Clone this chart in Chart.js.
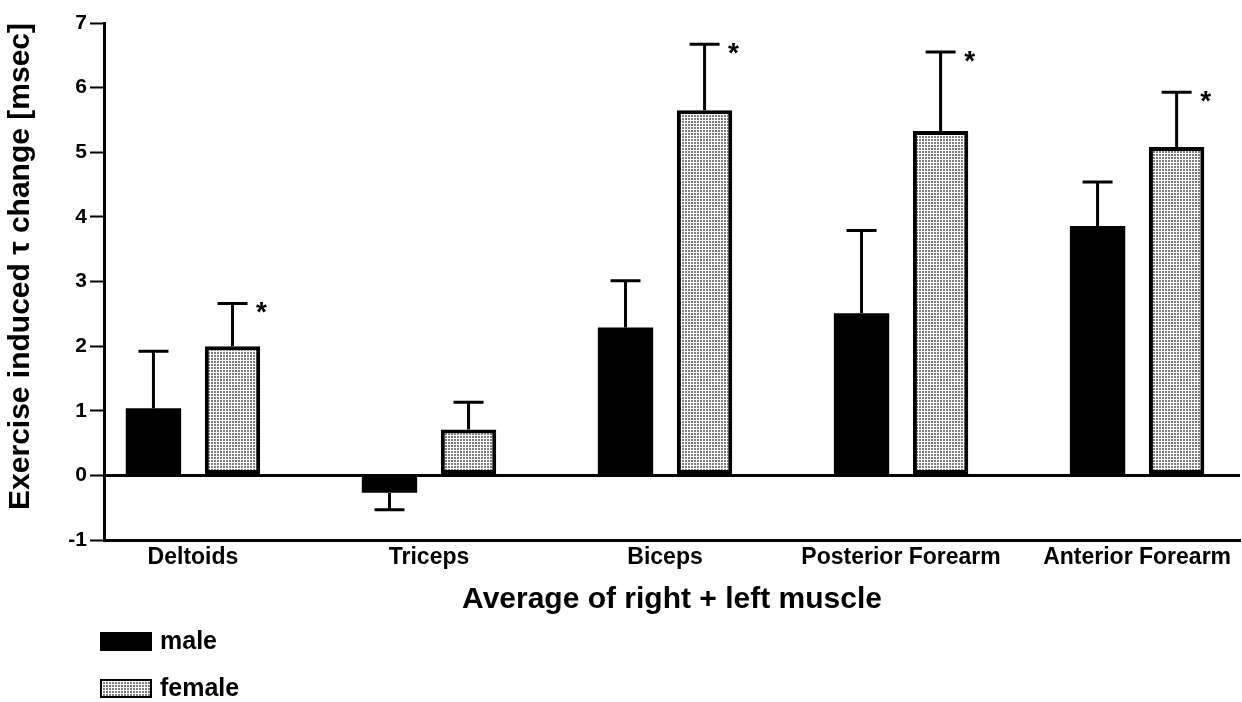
<!DOCTYPE html>
<html lang="en">
<head>
    <meta charset="UTF-8">
    <title>Exercise induced tau change</title>
    <script src="https://cdn.jsdelivr.net/npm/chart.js"></script>
    <style>
        body { margin: 0; background: #fff; }
        #wrap { width: 1242px; height: 702px; position: relative; }
    </style>
</head>
<body>
    <div id="wrap"><canvas id="barChart"></canvas></div>
    <script>
        // data
        var muscles = ['Deltoids', 'Triceps', 'Biceps', 'Posterior Forearm', 'Anterior Forearm'];
        var maleMean = [1.04, -0.27, 2.29, 2.51, 3.86];
        var maleErr = [0.88, 0.26, 0.72, 1.28, 0.68];
        var femaleMean = [2.0, 0.71, 5.65, 5.33, 5.08];
        var femaleErr = [0.66, 0.42, 1.02, 1.22, 0.85];
        var femaleSignif = [true, false, true, true, true];
        var yTicks = [-1, 0, 1, 2, 3, 4, 5, 6, 7];

        var font = '"Liberation Sans", Arial, sans-serif';

        // stippled grey fill for the female bars
        function makeStipple() {
            var c = document.createElement('canvas');
            c.width = 3; c.height = 3;
            var g = c.getContext('2d');
            g.fillStyle = '#7e7e7e';
            g.fillRect(0, 0, 3, 3);
            g.fillStyle = '#ffffff';
            g.fillRect(0, 0, 3, 1);
            g.fillRect(0, 0, 1, 3);
            return g.createPattern(c, 'repeat');
        }
        var stipple = makeStipple();

        function points(arr) {
            return arr.map(function (v, i) { return { x: i, y: v }; });
        }

        // error bars (one sided, away from zero) + significance stars
        var errorBars = {
            id: 'errorBars',
            afterDatasetsDraw: function (chart) {
                var ctx = chart.ctx;
                var ys = chart.scales.y;
                var errs = [maleErr, femaleErr];
                ctx.save();
                ctx.strokeStyle = '#000';
                ctx.lineWidth = 3;
                chart.data.datasets.forEach(function (ds, di) {
                    var meta = chart.getDatasetMeta(di);
                    meta.data.forEach(function (bar, i) {
                        var v = ds.data[i].y;
                        var e = errs[di][i];
                        var end = v >= 0 ? v + e : v - e;
                        var y0 = ys.getPixelForValue(v);
                        var y1 = ys.getPixelForValue(end);
                        ctx.beginPath();
                        ctx.moveTo(bar.x, y0);
                        ctx.lineTo(bar.x, y1);
                        ctx.moveTo(bar.x - 15, y1);
                        ctx.lineTo(bar.x + 15, y1);
                        ctx.stroke();
                        if (di === 1 && femaleSignif[i]) {
                            ctx.fillStyle = '#000';
                            ctx.font = 'bold 28px ' + font;
                            ctx.textAlign = 'center';
                            ctx.textBaseline = 'alphabetic';
                            ctx.fillText('*', bar.x + 29, y1 + 18);
                        }
                    });
                });
                ctx.restore();
            }
        };

        // legend stacked in the bottom left corner
        var sideLegend = {
            id: 'sideLegend',
            afterDraw: function (chart) {
                var ctx = chart.ctx;
                ctx.save();
                chart.data.datasets.forEach(function (ds, i) {
                    var y = 632 + i * 47;
                    ctx.fillStyle = ds.backgroundColor;
                    ctx.fillRect(100, y, 52, 19);
                    if (ds.borderWidth) {
                        ctx.strokeStyle = '#000';
                        ctx.lineWidth = 2;
                        ctx.strokeRect(101, y + 1, 50, 17);
                    }
                    ctx.fillStyle = '#000';
                    ctx.font = 'bold 25px ' + font;
                    ctx.textAlign = 'left';
                    ctx.textBaseline = 'middle';
                    ctx.fillText(ds.label, 160, y + 10);
                });
                ctx.restore();
            }
        };

        var ctx = document.getElementById('barChart').getContext('2d');
        new Chart(ctx, {
            type: 'bar',
            data: {
                datasets: [{
                    label: 'male',
                    data: points(maleMean),
                    backgroundColor: '#000',
                    borderWidth: 0
                }, {
                    label: 'female',
                    data: points(femaleMean),
                    backgroundColor: stipple,
                    borderColor: '#000',
                    borderWidth: 4,
                    borderSkipped: false
                }]
            },
            options: {
                responsive: true,
                maintainAspectRatio: false,
                animation: false,
                categoryPercentage: 0.67,
                barPercentage: 0.70,
                layout: { padding: { top: 23, right: 2, bottom: 82, left: 0 } },
                plugins: {
                    legend: { display: false },
                    tooltip: { enabled: false }
                },
                scales: {
                    x: {
                        type: 'linear',
                        offset: false,
                        min: -0.377,
                        max: 4.436,
                        grid: { display: false, drawTicks: false },
                        border: { display: true, color: '#000', width: 3 },
                        afterBuildTicks: function (scale) {
                            scale.ticks = muscles.map(function (m, i) { return { value: i }; });
                        },
                        ticks: {
                            autoSkip: false,
                            maxRotation: 0,
                            padding: 4,
                            color: '#000',
                            font: { family: font, size: 23, weight: 'bold' },
                            callback: function (v) { return muscles[v]; }
                        },
                        title: {
                            display: true,
                            text: 'Average of right + left muscle',
                            color: '#000',
                            font: { family: font, size: 30, weight: 'bold' },
                            padding: { top: 0, bottom: 2 }
                        },
                        afterFit: function (scale) { scale.height = 80; }
                    },
                    y: {
                        min: -1,
                        max: 7,
                        afterBuildTicks: function (scale) {
                            scale.ticks = yTicks.map(function (v) { return { value: v }; });
                        },
                        grid: {
                            color: function (c) { return c.tick && c.tick.value === 0 ? '#000' : 'rgba(0,0,0,0)'; },
                            lineWidth: 3,
                            tickColor: '#000',
                            tickLength: 14,
                            tickWidth: 2
                        },
                        border: { display: true, color: '#000', width: 3 },
                        ticks: {
                            padding: 3,
                            color: '#000',
                            font: { family: font, size: 21, weight: 'bold' }
                        },
                        title: {
                            display: true,
                            text: 'Exercise induced \u03c4 change [msec]',
                            align: 'end',
                            color: '#000',
                            font: { family: font, size: 30, weight: 'bold' },
                            padding: { top: 3, bottom: 0 }
                        },
                        afterFit: function (scale) { scale.width = 104; }
                    }
                }
            },
            plugins: [errorBars, sideLegend]
        });
    </script>
</body>
</html>
